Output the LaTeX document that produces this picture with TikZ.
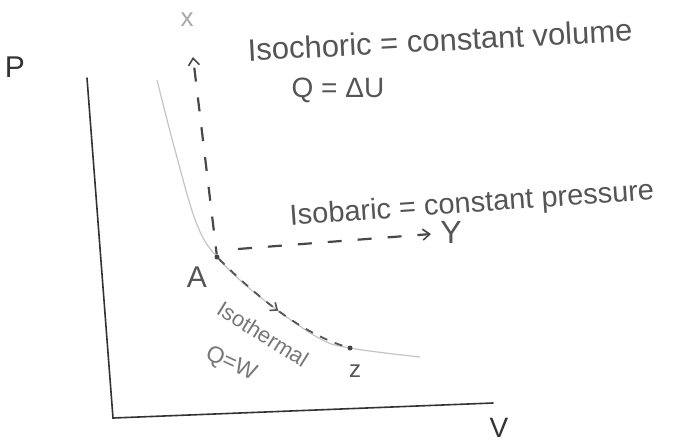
\documentclass[tikz,border=0pt]{standalone}
\usepackage{fontspec}
\setmainfont{Liberation Sans}
\usetikzlibrary{arrows.meta,decorations.markings}
\definecolor{ink}{HTML}{555555}
\definecolor{axisc}{HTML}{333333}
\definecolor{lightink}{HTML}{777777}
\definecolor{curvec}{HTML}{C4C4C4}
\definecolor{faint}{HTML}{A8A8A8}
\begin{document}
\begin{tikzpicture}[x=1pt,y=-1pt,
  hand/.style={text=ink, inner sep=0pt, outer sep=0pt},
  axisline/.style={draw=axisc, line width=1.6pt, line cap=round},
  dashline/.style={draw=ink!85!black, line width=2.2pt, dash pattern=on 14pt off 16pt},
  shortdash/.style={draw=ink, line width=1.8pt, dash pattern=on 8pt off 8pt},
  barb/.style={-{Straight Barb[length=7pt,width=11pt,line width=1.6pt]}},
  dotc/.style={circle, fill=ink!80!black, inner sep=0pt, minimum size=5pt}]
\useasboundingbox (0,0) rectangle (677,445);
% axes
\coordinate (Otop) at (87,78);
\coordinate (O) at (113,418);
\coordinate (Vend) at (493,403);
\draw[axisline] (Otop) -- (O) -- (Vend);
% isotherm curve
\draw[curvec, line width=1.2pt] plot[smooth, tension=0.6] coordinates
  {(157,80) (175,150) (196,222) (217,257) (260,297) (317,337) (350,348) (420,357)};
% points
\node[dotc] (A) at (217,257) {};
\node[dotc] (Zp) at (350,348) {};
\coordinate (Xtip) at (193,57);
\coordinate (Ystart) at (238,249);
\coordinate (Ytip) at (431,234);
% isochoric (vertical)
\draw[dashline, dash phase=6pt, barb] (A) -- (Xtip);
% isobaric (horizontal)
\draw[dashline, barb] (Ystart) -- (Ytip);
% isothermal
\draw[shortdash, postaction={decorate}, decoration={markings,
  mark=at position 0.5 with {\arrow[solid, line width=1.6pt]{Straight Barb[length=6pt,width=10pt]}}}]
  (A) .. controls (255,295) and (300,333) .. (Zp);
% labels
\node[hand, font=\fontsize{30}{32}\selectfont, text=axisc] (P) at (15,67) {P};
\node[hand, font=\fontsize{28}{30}\selectfont, text=axisc] (V) at (499,428) {V};
\node[hand, font=\fontsize{26}{28}\selectfont, text=faint] (X) at (187,20) {x};
\node[hand, font=\fontsize{30}{32}\selectfont] (Alab) at (197,277) {A};
\node[hand, font=\fontsize{32}{34}\selectfont] (Ylab) at (451,232) {Y};
\node[hand, font=\fontsize{24}{26}\selectfont] (Zlab) at (355,371) {z};
\node[hand, font=\fontsize{31}{33}\selectfont, rotate=3] (isoch) at (440,40) {Isochoric = constant volume};
\node[hand, font=\fontsize{28}{30}\selectfont] (qdu) at (338,90) {Q = ΔU};
\node[hand, font=\fontsize{29}{31}\selectfont, rotate=4] (isob) at (472,205) {Isobaric = constant pressure};
\node[hand, font=\fontsize{22}{24}\selectfont, rotate=-32, text=lightink] (isot) at (263,334) {Isothermal};
\node[hand, font=\fontsize{23}{25}\selectfont, rotate=-25, text=lightink] (qw) at (231,364) {Q=W};
\end{tikzpicture}
\end{document}
